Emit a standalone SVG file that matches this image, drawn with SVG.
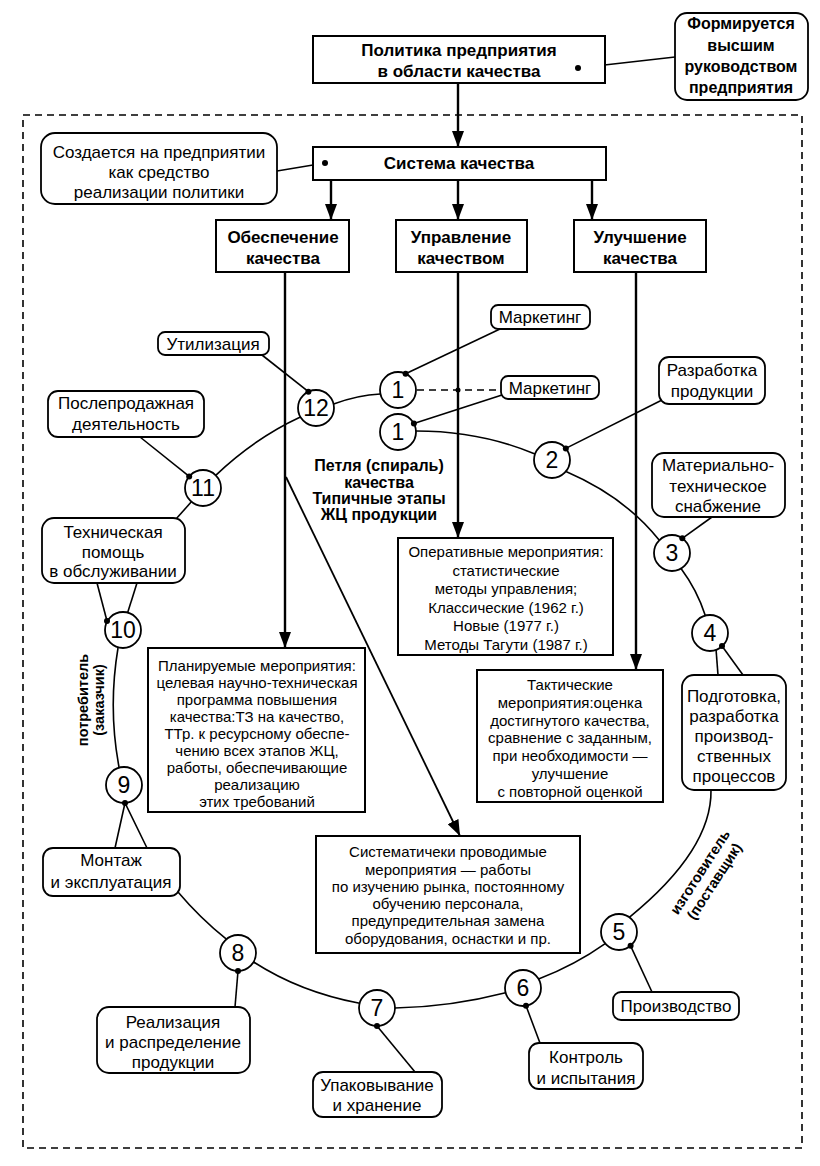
<svg xmlns="http://www.w3.org/2000/svg" width="820" height="1166" viewBox="0 0 820 1166">
<defs>
<style>
text{font-family:"Liberation Sans",Arial,sans-serif;fill:#000;text-anchor:middle}
.b{font-size:17px;font-weight:bold}
.cb{font-size:16px;font-weight:bold}
.t{font-size:17px}
.s{font-size:15px}
.n{font-size:23px}
.lb{font-size:16px;font-weight:bold}
.rl{font-size:14.5px;font-weight:bold}
.box{fill:#fff;stroke:#000;stroke-width:2}
.rb{fill:#fff;stroke:#000;stroke-width:1.8}
.c{fill:#fff;stroke:#000;stroke-width:1.8}
.ln{fill:none;stroke:#000;stroke-width:1.6}
.th{fill:none;stroke:#000;stroke-width:2.4}
.dash{fill:none;stroke:#000;stroke-width:1.6;stroke-dasharray:7 5}
.dot{fill:#000}
</style>
<marker id="ah" viewBox="0 0 16 12" refX="16" refY="6" markerWidth="16" markerHeight="12" markerUnits="userSpaceOnUse" orient="auto"><path d="M0,0 L16,6 L0,12 z" fill="#000"/></marker>
</defs>
<rect width="820" height="1166" fill="#fff"/>
<rect x="23" y="115" width="779" height="1033" class="dash"/>

<g id="connectors">
<line class="th" x1="458" y1="83" x2="458" y2="147" marker-end="url(#ah)"/>
<line class="th" x1="331" y1="180" x2="331" y2="220" marker-end="url(#ah)"/>
<line class="th" x1="458" y1="180" x2="458" y2="220" marker-end="url(#ah)"/>
<line class="th" x1="592" y1="180" x2="592" y2="220" marker-end="url(#ah)"/>
<line class="th" x1="285" y1="272" x2="285" y2="648" marker-end="url(#ah)"/>
<line class="th" x1="458" y1="272" x2="458" y2="538" marker-end="url(#ah)"/>
<line class="th" x1="636" y1="272" x2="636" y2="670" marker-end="url(#ah)"/>
<line class="ln" x1="286" y1="477" x2="460" y2="836" marker-end="url(#ah)" style="stroke-width:1.8"/>
<line class="ln" x1="578" y1="68" x2="675" y2="57"/>
<line class="ln" x1="325" y1="163" x2="277" y2="171"/>
<path class="ln" d="M333.6,404 Q358,395 380.4,394"/>
<path class="ln" d="M416,431 Q480,431 535,454"/>
<path class="ln" d="M566,471.6 Q625,497 659.3,540.3"/>
<path class="ln" d="M681,568.6 Q697,590 705.3,615.6"/>
<path class="ln" d="M716,649 L718,675"/>
<path class="ln" d="M711,790 Q712,850 629.3,917.3"/>
<path class="ln" d="M605.2,943.6 Q575,965 538.6,979"/>
<path class="ln" d="M505.6,992.7 Q450,1007 395,1008"/>
<path class="ln" d="M359.6,1003.3 Q300,992 253.6,962"/>
<path class="ln" d="M226.4,939.2 Q200,918 178,892"/>
<path class="ln" d="M147,848 L125,803 L115,848"/>
<path class="ln" d="M119,767 Q108,708 118,648"/>
<path class="ln" d="M127.7,612.6 L137,583"/>
<path class="ln" d="M107,621 L97,583"/>
<path class="ln" d="M191.4,501.8 L176,519"/>
<path class="ln" d="M215.7,475.3 Q255,438 300.4,417"/>
<line class="ln" x1="308.4" y1="391.7" x2="262" y2="355"/>
<line class="ln" x1="189.2" y1="476.4" x2="140" y2="437"/>
<line class="ln" x1="405.6" y1="373.7" x2="500" y2="329"/>
<line class="ln" x1="413.9" y1="423.5" x2="502" y2="395"/>
<line class="dash" x1="417" y1="390" x2="501" y2="390"/>
<line class="ln" x1="565.8" y1="448.4" x2="664" y2="399"/>
<line class="ln" x1="682.3" y1="538.3" x2="712" y2="517"/>
<line class="ln" x1="722" y1="646" x2="743" y2="675"/>
<line class="ln" x1="630.6" y1="945.8" x2="652" y2="992"/>
<line class="ln" x1="526" y1="1005.7" x2="540" y2="1043"/>
<line class="ln" x1="377" y1="1026" x2="415" y2="1072"/>
<line class="ln" x1="238" y1="971" x2="235" y2="1007"/>
</g>

<g id="policy"><rect class="box" x="313" y="36" width="292" height="47"/><text class="b" x="459" y="56">Политика предприятия</text><text class="b" x="459" y="77">в области качества</text></g>
<g id="policy-note"><rect class="rb" x="675" y="13" width="133" height="87" rx="12"/><text class="cb" x="741" y="29">Формируется</text><text class="cb" x="741" y="51">высшим</text><text class="cb" x="741" y="72">руководством</text><text class="cb" x="741" y="93">предприятия</text></g>
<g id="system"><rect class="box" x="313" y="147" width="293" height="33"/><text class="b" x="459" y="169">Система качества</text></g>
<g id="system-note"><rect class="rb" x="41" y="133" width="236" height="71" rx="14"/><text class="t" x="159" y="158">Создается на предприятии</text><text class="t" x="159" y="178">как средство</text><text class="t" x="159" y="198">реализации политики</text></g>
<g id="assurance"><rect class="box" x="216" y="220" width="133" height="52"/><text class="b" x="283" y="243">Обеспечение</text><text class="b" x="283" y="264">качества</text></g>
<g id="management"><rect class="box" x="396" y="220" width="131" height="52"/><text class="b" x="461" y="243">Управление</text><text class="b" x="461" y="264">качеством</text></g>
<g id="improvement"><rect class="box" x="574" y="220" width="132" height="52"/><text class="b" x="640" y="243">Улучшение</text><text class="b" x="640" y="264">качества</text></g>

<g id="loop-title"><text class="lb" x="379" y="471">Петля (спираль)</text><text class="lb" x="379" y="488">качества</text><text class="lb" x="379" y="504">Типичные этапы</text><text class="lb" x="379" y="520">ЖЦ продукции</text></g>

<g id="operative"><rect class="box" x="398" y="538" width="215" height="117"/><text class="s" x="506" y="557">Оперативные мероприятия:</text><text class="s" x="506" y="575.5">статистические</text><text class="s" x="506" y="594">методы управления;</text><text class="s" x="506" y="612.5">Классические (1962 г.)</text><text class="s" x="506" y="631">Новые (1977 г.)</text><text class="s" x="506" y="649.5">Методы Тагути (1987 г.)</text></g>
<g id="planned"><rect class="box" x="148" y="648" width="217" height="164"/><text class="s" x="257" y="671">Планируемые мероприятия:</text><text class="s" x="257" y="688">целевая научно-техническая</text><text class="s" x="257" y="705">программа повышения</text><text class="s" x="257" y="722">качества:ТЗ на качество,</text><text class="s" x="257" y="739">ТТр. к ресурсному обеспе-</text><text class="s" x="257" y="756">чению всех этапов ЖЦ,</text><text class="s" x="257" y="773">работы, обеспечивающие</text><text class="s" x="257" y="790">реализацию</text><text class="s" x="257" y="807">этих требований</text></g>
<g id="tactical"><rect class="box" x="477" y="670" width="186" height="132"/><text class="s" x="570" y="690">Тактические</text><text class="s" x="570" y="708">мероприятия:оценка</text><text class="s" x="570" y="726">достигнутого качества,</text><text class="s" x="570" y="743">сравнение с заданным,</text><text class="s" x="570" y="761">при необходимости —</text><text class="s" x="570" y="779">улучшение</text><text class="s" x="570" y="797">с повторной оценкой</text></g>
<g id="systematic"><rect class="box" x="316" y="836" width="264" height="117"/><text class="s" x="448" y="857">Систематичеки проводимые</text><text class="s" x="448" y="875">мероприятия — работы</text><text class="s" x="448" y="892">по изучению рынка, постоянному</text><text class="s" x="448" y="909">обучению персонала,</text><text class="s" x="448" y="926">предупредительная замена</text><text class="s" x="448" y="944">оборудования, оснастки и пр.</text></g>

<g id="marketing-1"><rect class="rb" x="491" y="305" width="99" height="24" rx="7"/><text class="t" x="540" y="323">Маркетинг</text></g>
<g id="marketing-2"><rect class="rb" x="501" y="376" width="98" height="23" rx="7"/><text class="t" x="550" y="394">Маркетинг</text></g>
<g id="utilization"><rect class="rb" x="158" y="332" width="111" height="23" rx="7"/><text class="t" x="213" y="350">Утилизация</text></g>
<g id="development"><rect class="rb" x="659" y="357" width="106" height="47" rx="10"/><text class="t" x="712" y="376">Разработка</text><text class="t" x="712" y="397">продукции</text></g>
<g id="after-sales"><rect class="rb" x="48" y="391" width="156" height="46" rx="10"/><text class="t" x="126" y="409">Послепродажная</text><text class="t" x="126" y="430">деятельность</text></g>
<g id="supply"><rect class="rb" x="652" y="453" width="133" height="64" rx="12"/><text class="t" x="718" y="471">Материально-</text><text class="t" x="718" y="492">техническое</text><text class="t" x="718" y="512">снабжение</text></g>
<g id="tech-help"><rect class="rb" x="42" y="518" width="143" height="65" rx="12"/><text class="t" x="113" y="538">Техническая</text><text class="t" x="113" y="558">помощь</text><text class="t" x="113" y="577">в обслуживании</text></g>
<g id="preparation"><rect class="rb" x="682" y="675" width="104" height="115" rx="12"/><text class="t" x="734" y="702">Подготовка,</text><text class="t" x="734" y="722">разработка</text><text class="t" x="734" y="742">производ-</text><text class="t" x="734" y="762">ственных</text><text class="t" x="734" y="782">процессов</text></g>
<g id="assembly"><rect class="rb" x="43" y="848" width="137" height="48" rx="10"/><text class="t" x="111" y="866">Монтаж</text><text class="t" x="111" y="888">и эксплуатация</text></g>
<g id="realization"><rect class="rb" x="97" y="1007" width="153" height="66" rx="12"/><text class="t" x="173" y="1028">Реализация</text><text class="t" x="173" y="1048">и распределение</text><text class="t" x="173" y="1068">продукции</text></g>
<g id="packing"><rect class="rb" x="313" y="1072" width="129" height="45" rx="10"/><text class="t" x="377" y="1091">Упаковывание</text><text class="t" x="377" y="1111">и хранение</text></g>
<g id="control"><rect class="rb" x="529" y="1043" width="114" height="46" rx="10"/><text class="t" x="586" y="1063">Контроль</text><text class="t" x="586" y="1084">и испытания</text></g>
<g id="production"><rect class="rb" x="613" y="992" width="126" height="28" rx="8"/><text class="t" x="676" y="1012">Производство</text></g>

<g id="stage-1a"><circle class="c" cx="398" cy="390" r="18"/><text class="n" x="398" y="398">1</text></g>
<g id="stage-1b"><circle class="c" cx="398" cy="432" r="18"/><text class="n" x="398" y="440">1</text></g>
<g id="stage-2"><circle class="c" cx="552" cy="460" r="18"/><text class="n" x="552" y="468">2</text></g>
<g id="stage-3"><circle class="c" cx="672" cy="553" r="18"/><text class="n" x="672" y="561">3</text></g>
<g id="stage-4"><circle class="c" cx="710" cy="633" r="18"/><text class="n" x="710" y="641">4</text></g>
<g id="stage-5"><circle class="c" cx="619" cy="932" r="18"/><text class="n" x="619" y="940">5</text></g>
<g id="stage-6"><circle class="c" cx="523" cy="988" r="18"/><text class="n" x="523" y="996">6</text></g>
<g id="stage-7"><circle class="c" cx="377" cy="1008" r="18"/><text class="n" x="377" y="1016">7</text></g>
<g id="stage-8"><circle class="c" cx="238" cy="953" r="18"/><text class="n" x="238" y="961">8</text></g>
<g id="stage-9"><circle class="c" cx="124" cy="785" r="18"/><text class="n" x="124" y="793">9</text></g>
<g id="stage-10"><circle class="c" cx="123" cy="630" r="18"/><text class="n" x="123" y="638">10</text></g>
<g id="stage-11"><circle class="c" cx="203" cy="488" r="18"/><text class="n" x="203" y="496">11</text></g>
<g id="stage-12"><circle class="c" cx="316" cy="408" r="18"/><text class="n" x="316" y="416">12</text></g>

<g id="connector-dots">
<circle class="dot" cx="578" cy="68" r="3"/><circle class="dot" cx="325" cy="163" r="3"/>
<circle class="dot" cx="308.4" cy="391.7" r="3"/><circle class="dot" cx="189.2" cy="476.4" r="3"/>
<circle class="dot" cx="405.6" cy="373.7" r="3"/><circle class="dot" cx="413.9" cy="423.5" r="3"/>
<circle class="dot" cx="565.8" cy="448.4" r="3"/><circle class="dot" cx="682.3" cy="538.3" r="3"/>
<circle class="dot" cx="722" cy="646" r="3"/><circle class="dot" cx="630.6" cy="945.8" r="3"/>
<circle class="dot" cx="526" cy="1005.7" r="3"/><circle class="dot" cx="377" cy="1026" r="3"/>
<circle class="dot" cx="238" cy="971" r="3"/><circle class="dot" cx="125" cy="803" r="3"/>
<circle class="dot" cx="107" cy="621" r="3"/><circle class="dot" cx="458" cy="390" r="2.5"/>
</g>

<g id="label-maker" transform="translate(700,872) rotate(-57)"><text class="rl" y="5">изготовитель</text><text class="rl" y="22">(поставщик)</text></g>
<g id="label-consumer" transform="translate(83,700) rotate(-90)"><text class="rl" y="5">потребитель</text><text class="rl" y="21">(заказчик)</text></g>
</svg>
